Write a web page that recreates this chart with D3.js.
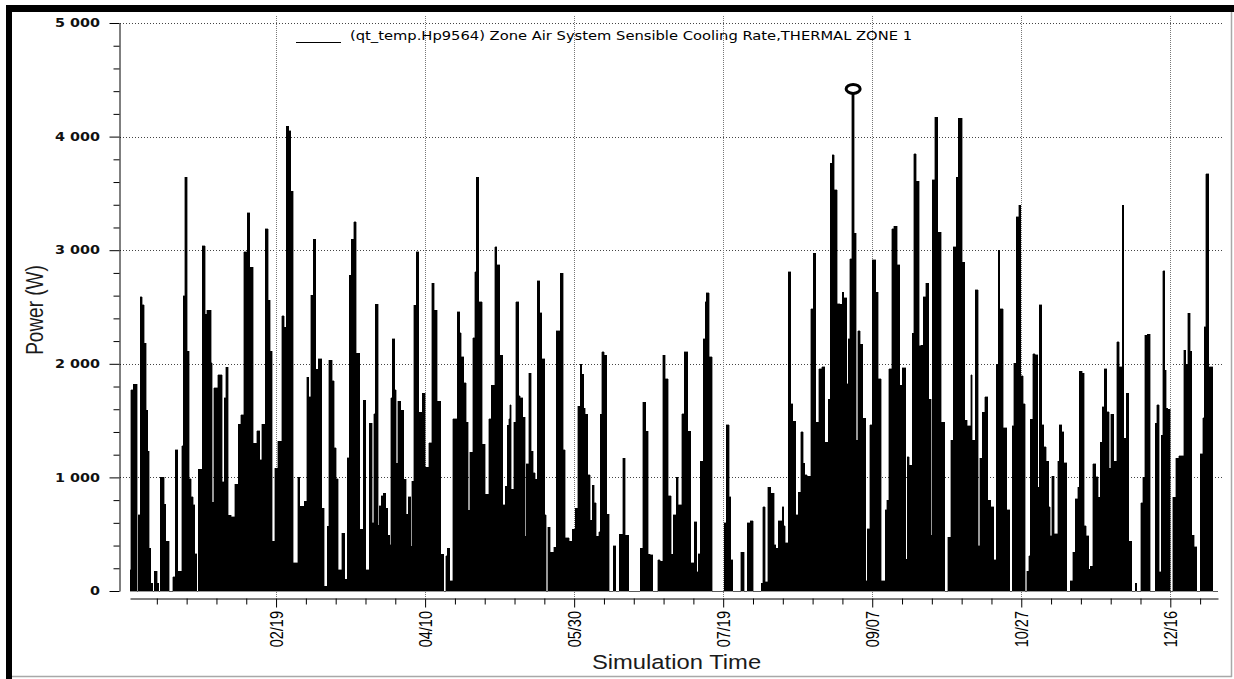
<!DOCTYPE html>
<html>
<head>
<meta charset="utf-8">
<script src="https://cdn.jsdelivr.net/npm/d3@7"></script>
<style>
  html, body { margin: 0; padding: 0; background: #fff; }
  svg { display: block; }
</style>
</head>
<body>
<svg id="chart" width="1234" height="679"></svg>
<script>
// Simulation year (non-leap) and the sensible cooling rate series,
// given as [day of year, watts]; each value holds until the next sample.
const simYear = 2021;
const samples = [
  [0,185],[0.2,1770],[1.1,1820],[2.5,0],[2.8,670],[3.4,2590],[4.1,2520],[4.8,2180],[5.5,1590],[5.9,1230],
  [6.5,376],[7.0,70],[7.6,0],[8.2,176],[9.1,68],[9.7,0],[10.1,1000],[11.5,765],[12.0,440],[13.1,0],
  [14.3,126],[15.1,1245],[16.0,176],[17.3,1280],[17.9,2600],[18.4,3640],[19.2,2110],[19.9,990],[20.5,830],[21.2,760],
  [21.8,330],[22.4,0],[22.9,1070],[24.3,3040],[25.2,2435],[25.7,2470],[27.2,2010],[27.6,780],[28.1,1790],[29.4,1905],
  [31.0,960],[31.6,1700],[32.2,1970],[33.0,665],[33.9,655],[35.2,940],[36.3,1470],[37.2,1550],[38.2,2985],[39.4,3330],
  [40.2,2850],[41.4,1300],[42.5,1410],[43.6,1155],[44.2,1470],[45.3,3190],[46.4,2560],[47.1,2110],[47.7,440],[48.6,1080],
  [49.5,1320],[50.9,2425],[51.8,2320],[52.4,4090],[53.3,4050],[53.9,3520],[54.8,250],[56.2,1000],[57.0,745],[58.5,790],
  [59.3,1880],[60.0,1710],[60.7,2605],[61.4,3095],[62.3,1950],[63.2,2045],[64.3,730],[65.2,40],[66.1,570],[66.7,2030],
  [67.9,1850],[68.5,1260],[69.2,990],[69.9,185],[71.0,510],
  [72.0,105],[72.8,1175],[73.5,2780],[74.2,3095],[75.1,3250],[75.9,2095],[77.0,545],[78.2,1680],[79.1,185],[80.2,1475],
  [81.3,600],[81.7,1560],[82.3,2525],[83.2,580],[83.7,750],[84.3,840],[84.9,860],[85.8,730],[86.5,490],[87.1,405],
  [87.4,1700],[87.9,2220],[88.8,1770],[89.3,1125],[89.9,1670],[90.8,1590],[91.9,985],[92.7,675],[93.3,830],[94.2,395],
  [94.6,965],[95.2,2515],[96.1,2985],[96.8,1575],[98.1,1740],[99.0,1090],[100.3,1305],[101.2,2710],[102.1,2470],[103.1,1670],
  [104.2,325],[105.2,0],[105.9,310],[106.4,375],[107.2,90],[108.3,1515],[109.8,2460],[110.6,2275],[111.1,2060],[111.9,1835],
  [112.8,1485],[113.5,710],[114.0,1220],[115.0,2230],[115.6,2810],[116.2,3640],[117.0,2545],[118.1,1290],[119.2,850],[120.3,1515],
  [121.2,1810],[122.3,3030],[123.1,2870],[124.0,2075],[125.1,760],[125.9,920],[126.5,1460],[127.0,1515],[127.4,1640],[127.9,895],
  [128.7,1485],[129.4,2545],[130.4,1720],[131.0,1700],[131.8,1530],[132.6,480],[132.9,1120],[133.8,1915],[134.6,1230],[135.2,1040],
  [136.0,985],[136.6,2730],[137.4,2450],[138.2,2045],[139.1,670],[139.6,0],[140.2,560],[141.0,340],[142.1,385],[143.0,2290],
  [144.3,2795],
  [145.4,1245],[146.1,470],[147.4,440],[148.3,545],[149.3,730],[150.2,1625],[151.0,1995],[151.5,1910],[152.2,1610],[152.7,1555],
  [153.5,1025],[154.4,625],[155.0,930],[155.8,775],[156.5,480],[157.2,520],[157.7,1555],[158.2,2105],[159.1,2075],[160.0,675],
  [160.8,0],[162.1,400],[163.0,0],[164.2,500],[165.3,1170],[166.2,490],[167.3,0],[171.2,375],[172.0,1660],[173.1,1405],
  [173.9,325],[174.5,320],[175.4,0],[177.0,275],[177.9,260],[178.7,2075],[179.6,1870],[180.6,840],[181.5,325],[182.3,670],
  [183.2,1000],[183.9,760],[185.1,1560],[185.9,2105],[187.1,1405],[188.2,250],[189.3,610],[190.2,170],[190.6,330],[191.3,1140],
  [192.3,2220],[192.9,2545],[193.4,2625],[194.3,2060],[195.4,0],[199.4,600],[200.1,1465],[201.0,830],[201.6,275],[202.2,0],
  [204.9,340],[206.1,0],[207.0,600],[208.0,620],[209.1,0],[211.7,70],[212.2,740],[213.1,80],[213.9,915],[215.0,860],
  [216.1,405],[216.7,375],[217.5,620],
  [218.0,620],[218.8,740],[219.4,575],[219.9,425],[220.8,2810],[221.6,1650],[222.4,1495],[223.3,670],[224.2,870],[225.0,1400],
  [225.8,1125],[226.4,1025],[227.2,1010],[228.3,2485],[229.2,2975],[230.0,1485],[231.1,1955],[232.0,1975],[233.1,1310],[234.3,1690],
  [235.0,3765],[235.6,3840],[236.2,3530],[237.3,2530],[238.2,2525],[239.0,2630],[239.5,2580],[240.4,1825],[241.0,2220],[241.5,2925],
  [242.2,4420],[243.0,3150],[243.6,1325],[244.1,2290],[244.9,2170],[245.9,1520],[246.8,90],[247.3,550],[248.2,1465],[249.0,2915],
  [250.1,2630],[251.0,1870],[252.1,90],[253.3,715],[253.8,800],[254.6,1955],[255.5,3190],[256.3,3210],[257.4,2870],[258.3,1810],
  [259.1,1965],[260.2,280],[260.8,1180],[261.5,1105],[262.4,2270],[263.0,3850],[263.8,3605],[264.7,2160],[265.2,2165],[266.1,2590],
  [266.9,2710],[268.0,1690],[268.8,490],[269.1,3620],[270.0,4170],[271.0,3160],[272.2,1485],[273.3,0],[274.4,475],[275.3,1325],
  [276.1,3030],[277.2,3640],[277.9,4160],[279.2,2895],[280.1,1505],[280.9,1455],[282.0,1905],[282.6,1325],[283.5,2650],[284.6,400],
  [285.1,1170],[285.9,1575],[286.7,1710],[287.8,800],[288.7,740],[289.8,275],[290.6,1995],[291.2,3000],
  [291.7,2485],[292.9,1435],[294.2,715],[295.1,0],[295.9,1455],[296.4,2005],[297.3,3295],[298.1,3395],[298.9,1895],[299.6,1650],
  [300.3,0],[300.9,176],[301.5,310],[302.0,1510],[302.9,2090],[303.7,2080],[304.5,915],[305.0,2520],[305.9,1465],[306.5,1270],
  [307.3,1140],[308.2,740],[308.7,485],[309.3,1010],[310.1,505],[311.2,1140],[311.8,1465],[312.6,1400],[313.2,1130],[314.3,0],
  [315.4,90],[316.3,340],[317.1,810],[317.9,915],[318.5,1935],[319.4,1915],[320.1,575],[320.8,485],[321.6,190],[322.1,220],
  [323.0,1120],[324.0,1005],[324.9,825],[325.5,1310],[326.1,1620],[326.8,1955],[327.7,1580],[328.5,1080],[329.1,1555],[330.0,1140],
  [331.1,2195],[331.9,1975],[332.8,3395],[333.3,1345],[334.2,1740],[335.0,440],[336.1,0],[337.2,70],[337.8,0],[339.1,775],
  [339.8,1000],[340.4,2250],[341.2,2260],[342.3,0],[344.0,1475],[344.5,1640],[345.3,170],[346.0,1370],[346.5,2820],[347.1,1945],
  [347.6,1610],[348.1,1600],[349.0,0],[349.9,825],[350.9,1170],[351.8,1190],[353.5,2120],[354.2,1995],[354.9,2445],[355.7,2110],
  [356.2,490],[357.0,390],[357.9,0],[359.0,1210],[359.8,1525],[360.4,2325],[360.9,3675],[361.9,1975],[363.3,0],[365,0]
];

const yTicks = [0, 1000, 2000, 3000, 4000, 5000];
const yMinorStep = 200;
const dateTicks = ["02/19", "04/10", "05/30", "07/19", "09/07", "10/27", "12/16"];
const minorTickFirst = "01/10";
const minorTickDays = 10;
const seriesLabel = "(qt_temp.Hp9564) Zone Air System Sensible Cooling Rate,THERMAL ZONE 1";
const xTitle = "Simulation Time";
const yTitle = "Power (W)";

const svg = d3.select("#chart");
const t0 = Date.UTC(simYear, 0, 1);
const dayToDate = d => new Date(t0 + d * 864e5);
const parseMD = s => { const [m, d] = s.split("/").map(Number); return new Date(Date.UTC(simYear, m - 1, d)); };

const x = d3.scaleUtc().domain([dayToDate(0), dayToDate(365)]).range([130, 1218]);
const y = d3.scaleLinear().domain([0, 5000]).range([591, 23]);

const fmtY = d3.formatLocale({ decimal: ".", thousands: " ", grouping: [3], currency: ["", ""] }).format(",");
const fmtX = d3.utcFormat("%m/%d");
const textStretch = 1.25;

// window frame
svg.append("rect").attr("x", 6).attr("y", 5).attr("width", 1228).attr("height", 7).attr("fill", "#000");
svg.append("rect").attr("x", 6).attr("y", 5).attr("width", 6).attr("height", 674).attr("fill", "#000");
svg.append("line").attr("x1", 1231.5).attr("x2", 1231.5).attr("y1", 12).attr("y2", 677)
  .attr("stroke", "#a8a8a8").attr("stroke-width", 1.5);
svg.append("line").attr("x1", 12).attr("x2", 1232).attr("y1", 676.5).attr("y2", 676.5)
  .attr("stroke", "#a8a8a8").attr("stroke-width", 1.5);

// dotted grid
const grid = svg.append("g");
grid.selectAll("line.h").data(yTicks.filter(v => v > 0)).join("line")
  .attr("x1", 120).attr("x2", 1224)
  .attr("y1", d => Math.round(y(d)) + 0.5).attr("y2", d => Math.round(y(d)) + 0.5)
  .attr("stroke", "#444").attr("stroke-dasharray", "1,2");
const majorDates = dateTicks.map(parseMD);
grid.selectAll("line.v").data(majorDates).join("line")
  .attr("x1", d => Math.round(x(d)) + 0.5).attr("x2", d => Math.round(x(d)) + 0.5)
  .attr("y1", 16).attr("y2", 598)
  .attr("stroke", "#777").attr("stroke-dasharray", "1,1");

// cooling rate, drawn as a stepped filled trace
const area = d3.area()
  .curve(d3.curveStepAfter)
  .x(d => x(dayToDate(d[0])))
  .y0(y(0))
  .y1(d => y(d[1]));
svg.append("path").datum(samples).attr("d", area)
  .attr("fill", "#000").attr("stroke", "#000").attr("stroke-width", 0.4)
  .attr("shape-rendering", "crispEdges");

// annual maximum marker
const iMax = d3.maxIndex(samples, d => d[1]);
const peakX = (x(dayToDate(samples[iMax][0])) + x(dayToDate(samples[iMax + 1][0]))) / 2;
svg.append("ellipse").attr("cx", peakX).attr("cy", y(samples[iMax][1]))
  .attr("rx", 7).attr("ry", 4.5)
  .attr("fill", "#fff").attr("stroke", "#000").attr("stroke-width", 3);

// y axis
const yAxis = svg.append("g").attr("transform", "translate(119.5,0)")
  .call(d3.axisLeft(y).tickValues(yTicks).tickSize(10).tickSizeOuter(0).tickFormat(fmtY));
yAxis.select(".domain").attr("stroke", "#000");
yAxis.selectAll(".tick line").attr("stroke", "#000");
yAxis.selectAll(".tick text")
  .attr("x", 0).attr("dy", "0.33em")
  .attr("transform", `translate(-19.5,0) scale(${textStretch},1)`)
  .attr("text-anchor", "end")
  .style("font-family", "'DejaVu Sans', Verdana, sans-serif").style("font-size", "11.5px")
  .style("font-weight", "bold")
  .attr("fill", "#111");
const yMinor = d3.range(0, 5000 + 1, yMinorStep).filter(v => !yTicks.includes(v));
svg.append("g").attr("transform", "translate(119.5,0)")
  .call(d3.axisLeft(y).tickValues(yMinor).tickSize(6).tickFormat(""))
  .call(g => g.select(".domain").remove())
  .selectAll(".tick line").attr("stroke", "#000");

// x axis
const xAxis = svg.append("g").attr("transform", "translate(0,598.5)")
  .call(d3.axisBottom(x).tickValues(majorDates).tickSize(9).tickSizeOuter(0).tickFormat(fmtX));
xAxis.select(".domain").attr("stroke", "#000");
xAxis.selectAll(".tick line").attr("stroke", "#000");
xAxis.selectAll(".tick text")
  .attr("x", 0).attr("y", 0).attr("dy", "0.35em")
  .attr("transform", `translate(0,12.5) scale(${textStretch},1) rotate(-90)`)
  .attr("text-anchor", "end")
  .style("font-family", "'Liberation Sans', Arial, sans-serif").style("font-size", "14.5px")
  .attr("fill", "#000");
const minorDates = d3.utcDay.range(parseMD(minorTickFirst), dayToDate(365), minorTickDays)
  .filter(d => !majorDates.some(m => +m === +d));
svg.append("g").attr("transform", "translate(0,598.5)")
  .call(d3.axisBottom(x).tickValues(minorDates).tickSize(6).tickFormat(""))
  .call(g => g.select(".domain").remove())
  .selectAll(".tick line").attr("stroke", "#000");

// axis titles
svg.append("text").text(xTitle)
  .attr("transform", `translate(676.5,669) scale(1.22,1)`)
  .attr("text-anchor", "middle")
  .style("font-family", "'Liberation Sans', Arial, sans-serif").style("font-size", "19.5px")
  .attr("fill", "#1a1a1a");
svg.append("text").text(yTitle)
  .attr("transform", `translate(43,310) scale(${textStretch},1) rotate(-90)`)
  .attr("text-anchor", "middle")
  .style("font-family", "'Liberation Sans', Arial, sans-serif").style("font-size", "19px")
  .attr("fill", "#1a1a1a");

// legend
svg.append("line").attr("x1", 296).attr("x2", 341).attr("y1", 42.5).attr("y2", 42.5)
  .attr("stroke", "#000").attr("stroke-width", 1);
svg.append("text").text(seriesLabel)
  .attr("x", 350).attr("y", 40)
  .attr("textLength", 562).attr("lengthAdjust", "spacingAndGlyphs")
  .style("font-family", "'DejaVu Sans', Verdana, sans-serif").style("font-size", "11.5px")
  .attr("fill", "#000");
</script>
</body>
</html>
